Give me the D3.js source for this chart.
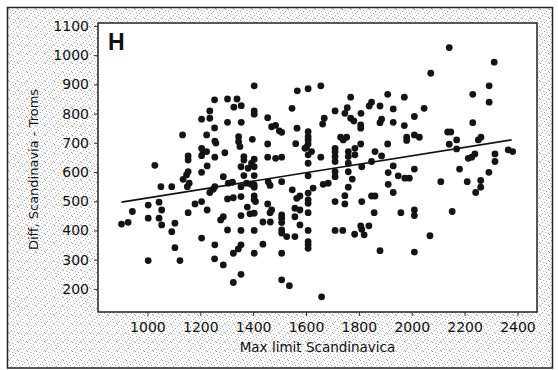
<!DOCTYPE html>
<html>
<head>
<meta charset="utf-8">
<script src="https://cdn.jsdelivr.net/npm/d3@7"></script>
<style>
  html, body { margin: 0; padding: 0; background: #fff; }
  svg { display: block; }
</style>
</head>
<body>
<svg id="chart" width="558" height="370"></svg>
<script>
// ---- data ----
const xTicks = [1000, 1200, 1400, 1600, 1800, 2000, 2200, 2400];
const yTicks = [200, 300, 400, 500, 600, 700, 800, 900, 1000, 1100];
const xTitle = "Max limit Scandinavica";
const yTitle = "Diff, Scandinavia - Troms";
const panelLabel = "H";

const maxLimit = [
  1404,1567,1608,1656,1254,1303,1339,1327,1355,1236,
  1404,1404,1547,1710,1205,1236,1303,1355,1455,1669,
  1663,1254,1470,1485,1499,1508,1566,1608,1608,1608,
  1133,1224,1345,1345,1397,1255,1259,1455,1561,1608,
  1602,1596,1731,1350,1205,1710,2142,2312,2072,2293,
  2231,1909,1972,1769,2293,1848,1839,1880,2047,1930,
  1756,1747,1808,2010,1769,1781,1807,1807,1886,1880,
  1930,1972,2231,2136,2148,2010,2029,1981,1981,1754,
  1741,2262,2252,2170,2142,1807,1909,2170,2365,2382,
  1785,
  1154,1154,1211,1224,1205,1255,1293,1365,1365,1404,
  1394,1404,1381,1354,1455,1485,1508,1608,1621,1608,
  1656,1710,1710,1710,1028,1226,1205,1154,1148,1135,
  1287,1365,1404,1051,1092,1158,1151,1255,1249,1236,
  1306,1322,1354,1375,1392,1404,1404,1457,1464,1508,
  1608,1627,1608,1684,1665,1710,1710,1548,1577,1565,
  1303,1325,1354,1404,1404,1409,1003,1044,943,1054,
  1180,1205,1226,1154,1378,1455,1470,1464,1558,1577,
  1558,1608,1608,1608,1710,1508,1508,1508,1354,1388,
  1404,1287,1277,902,927,1003,1044,1054,1104,1092,
  1437,1465,1577,1303,1354,1404,1508,1508,1527,1558,
  1608,1710,1205,1608,1608,1608,1104,1255,1354,1344,
  1325,1437,1404,1508,1003,1123,1254,1287,1354,1325,
  1508,1537,1659,
  1760,1760,1760,1785,1861,1886,1848,1811,1930,2010,
  1911,1949,1974,1991,1760,1775,1760,1911,1930,1747,
  1747,1811,1848,1861,1858,1959,2010,2010,2153,2110,
  2181,2210,2261,2261,2242,2292,2227,2239,2315,2315,
  1739,1784,1807,1811,1820,1838,2069,1880,2010,2214
];
const diffValues = [
  895,878,885,895,847,850,850,822,827,809,
  809,798,818,809,781,784,770,770,786,784,
  764,751,755,760,741,736,750,738,721,710,
  727,727,721,704,712,706,699,696,697,696,
  685,681,719,687,681,681,1026,976,938,895,
  866,866,856,856,839,839,826,826,818,816,
  820,801,801,790,784,775,761,750,781,769,
  770,759,769,737,737,727,719,719,708,719,
  710,719,710,710,695,696,696,679,676,670,
  681,
  655,641,670,670,656,651,666,653,641,644,
  630,618,613,618,651,647,651,659,670,630,
  651,669,653,636,623,621,599,601,590,575,
  584,588,588,550,550,562,550,550,541,530,
  562,565,550,562,558,556,548,567,554,567,
  587,545,528,562,558,601,584,539,518,510,
  508,512,516,518,505,499,487,497,465,470,
  491,499,470,461,480,491,470,461,476,470,
  447,505,493,461,499,453,442,427,451,457,
  459,447,436,422,428,442,442,419,425,396,
  429,429,419,402,400,400,402,391,379,379,
  400,400,374,362,351,339,341,351,351,337,
  322,353,322,322,297,297,303,282,250,222,
  231,211,173,
  670,653,630,659,670,655,636,618,621,610,
  598,587,579,579,601,576,548,558,530,519,
  491,499,518,518,461,461,470,451,465,567,
  610,567,571,548,530,599,651,662,662,636,
  400,387,416,404,385,416,382,331,326,647
];
const fitX = [902, 2378];
const fitY = [497, 710];

// ---- drawing ----
const svg = d3.select("#chart");
const plot = { left: 98, right: 537, top: 23, bottom: 312 };

const x = d3.scaleLinear().domain([813, 2474]).range([plot.left, plot.right]);
const y = d3.scaleLinear().domain([121, 1110]).range([plot.bottom, plot.top]);

// stipple pattern
const defs = svg.append("defs");
const pat = defs.append("pattern")
  .attr("id", "stipple").attr("patternUnits", "userSpaceOnUse")
  .attr("width", 9).attr("height", 9);
pat.append("rect").attr("width", 9).attr("height", 9).attr("fill", "#fdfdfd");
const dots = [
  [0,0,"#9a9a9a"],[3,1,"#bdbdbd"],[6,2,"#a6a6a6"],
  [1,3,"#b6b6b6"],[4,4,"#9e9e9e"],[7,5,"#c2c2c2"],
  [2,6,"#aaaaaa"],[5,7,"#b8b8b8"],[8,8,"#a3a3a3"],
  [7,0,"#dadada"],[1,7,"#d8d8d8"],[4,1,"#dedede"]
];
dots.forEach(d => pat.append("rect").attr("x", d[0]).attr("y", d[1])
  .attr("width", 1).attr("height", 1).attr("fill", d[2]));

// outer frame with stipple
svg.append("rect").attr("x", 7.5).attr("y", 7.5).attr("width", 545).attr("height", 360.5)
  .attr("fill", "url(#stipple)").attr("stroke", "#222").attr("stroke-width", 1.5);

// plot area
svg.append("rect").attr("x", plot.left).attr("y", plot.top)
  .attr("width", plot.right - plot.left).attr("height", plot.bottom - plot.top)
  .attr("fill", "#fff").attr("stroke", "#222").attr("stroke-width", 1.5);

const fontFam = "'DejaVu Sans', Verdana, sans-serif";

// axes
const xAxis = svg.append("g").attr("transform", `translate(0,${plot.bottom})`)
  .call(d3.axisBottom(x).tickValues(xTicks).tickSize(4).tickPadding(6).tickFormat(d3.format("d")));
const yAxis = svg.append("g").attr("transform", `translate(${plot.left},0)`)
  .call(d3.axisLeft(y).tickValues(yTicks).tickSize(4).tickPadding(5).tickFormat(d3.format("d")));
[xAxis, yAxis].forEach(g => {
  g.select(".domain").remove();
  g.selectAll(".tick line").attr("stroke", "#333").attr("stroke-width", 1);
  g.selectAll(".tick text").attr("fill", "#111").style("font-family", fontFam).style("font-size", "14px");
});

// titles
svg.append("text").attr("x", (plot.left + plot.right) / 2).attr("y", 352)
  .attr("text-anchor", "middle").attr("fill", "#111")
  .style("font-family", fontFam).style("font-size", "13.5px").text(xTitle);
svg.append("text").attr("transform", `translate(38,${(plot.top + plot.bottom) / 2 + 2}) rotate(-90)`)
  .attr("text-anchor", "middle").attr("fill", "#111")
  .style("font-family", fontFam).style("font-size", "13px").text(yTitle);

// panel label
svg.append("text").attr("x", 108).attr("y", 50)
  .attr("fill", "#111").style("font-family", "'Liberation Sans', Arial, sans-serif")
  .style("font-weight", "bold").style("font-size", "23px").text(panelLabel);

// points
const pts = maxLimit.map((v, i) => ({ x: v, y: diffValues[i] }));
svg.append("g").selectAll("circle").data(pts).join("circle")
  .attr("cx", d => x(d.x)).attr("cy", d => y(d.y)).attr("r", 3.4)
  .attr("fill", "#141414");

// fit line
const line = d3.line().x(d => x(d[0])).y(d => y(d[1]));
svg.append("path").datum(fitX.map((v, i) => [v, fitY[i]]))
  .attr("d", line).attr("fill", "none").attr("stroke", "#111").attr("stroke-width", 1.6);
</script>
</body>
</html>
